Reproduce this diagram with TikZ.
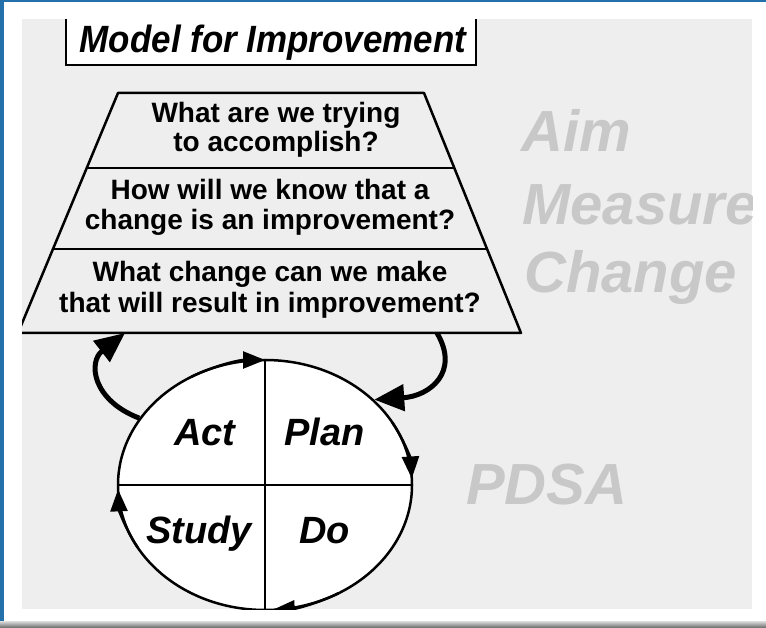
\documentclass[tikz,border=0pt]{standalone}
\usepackage{fontspec}
\setmainfont{Liberation Sans}
\usetikzlibrary{arrows.meta,shapes.geometric,calc}
\definecolor{panelgray}{RGB}{238,238,238}
\definecolor{labelgray}{RGB}{200,200,200}
\definecolor{frameblue}{RGB}{36,112,170}
\tikzset{
  qtext/.style={font=\fontsize{28}{30}\selectfont\bfseries, anchor=base, inner sep=0pt},
  biglabel/.style={font=\fontsize{58}{62}\selectfont\bfseries\itshape, text=labelgray, anchor=base west, inner sep=0pt},
  phase/.style={font=\fontsize{38}{42}\selectfont\bfseries\itshape, anchor=base west, inner sep=0pt},
  trapline/.style={line width=2.5pt, line join=round},
  bigarrow/.style={line width=5pt, -{Triangle[length=30pt,width=26pt]}},
  cyclearrow/.style={line width=2.5pt, -{Triangle[length=22pt,width=17pt]}},
}
\begin{document}
\begin{tikzpicture}[x=1pt,y=-1pt]
\useasboundingbox (0,0) rectangle (766,628);
% frame
\fill[white] (0,0) rectangle (766,628);
\fill[frameblue] (0,0) rectangle (4,628);
\fill[frameblue] (0,0) rectangle (766,2);
\shade[top color=gray!25, bottom color=gray!80!black] (0,621) rectangle (766,628);
\fill[panelgray] (22,19) rectangle (752,609);
\begin{scope}
\clip (22,19) rectangle (752,609);
% title box
\fill[white] (66,19) rectangle (476,65);
\draw[line width=2pt] (66,19) -- (66,65) -- (476,65) -- (476,19);
\node[font=\fontsize{38}{40}\selectfont\bfseries\itshape, anchor=base, inner sep=0pt] (title) at (273,53) {\scalebox{0.92}[1]{Model for Improvement}};
% trapezoid
\coordinate (tl) at (118,93);
\coordinate (tr) at (424,93);
\coordinate (bl) at (18,333);
\coordinate (br) at (521,333);
\draw[trapline] (tl) -- (tr) -- (br) -- (bl) -- cycle;
\draw[trapline] ($(tl)!0.3125!(bl)$) -- ($(tr)!0.3125!(br)$);
\draw[trapline] ($(tl)!0.65!(bl)$) -- ($(tr)!0.65!(br)$);
\node[qtext] (q1a) at (276,123) {What are we trying};
\node[qtext] (q1b) at (276,152) {to accomplish?};
\node[qtext] (q2a) at (270,200) {How will we know that a};
\node[qtext] (q2b) at (270,230) {change is an improvement?};
\node[qtext] (q3a) at (270,282) {What change can we make};
\node[qtext] (q3b) at (270,313) {that will result in improvement?};
% labels
\node[biglabel] (aim) at (521,152) {Aim};
\node[biglabel] (measure) at (522,225) {Measure};
\node[biglabel] (change) at (524,293) {Change};
\node[biglabel] (pdsa) at (466,504) {PDSA};
% cycle
\node[draw, ellipse, fill=white, line width=2.5pt, minimum width=294pt, minimum height=250pt, inner sep=0pt] (cyc) at (265,485) {};
\draw[line width=2.5pt] (cyc.north) -- (cyc.south);
\draw[line width=2.5pt] (cyc.west) -- (cyc.east);
\draw[cyclearrow] (cyc.center) ++(240:147 and 125) arc[start angle=240, end angle=270, x radius=147, y radius=125];
\draw[cyclearrow] (cyc.center) ++(330:147 and 125) arc[start angle=330, end angle=357, x radius=147, y radius=125];
\draw[cyclearrow] (cyc.center) ++(60:147 and 125) arc[start angle=60, end angle=87, x radius=147, y radius=125];
\draw[cyclearrow] (cyc.center) ++(150:147 and 125) arc[start angle=150, end angle=178, x radius=147, y radius=125];
\node[phase] (act) at (174,445) {Act};
\node[phase] (plan) at (284,445) {Plan};
\node[phase] (study) at (146,543) {Study};
\node[phase] (do) at (299,543) {Do};
% big arrows
\coordinate (tb1) at (125,333);
\coordinate (tb2) at (437,333);
\draw[bigarrow] (cyc.152) .. controls (92,400) and (88,362) .. (tb1);
\draw[bigarrow] (tb2) .. controls (460,372) and (430,396) .. (cyc.38);
\end{scope}
\end{tikzpicture}
\end{document}
